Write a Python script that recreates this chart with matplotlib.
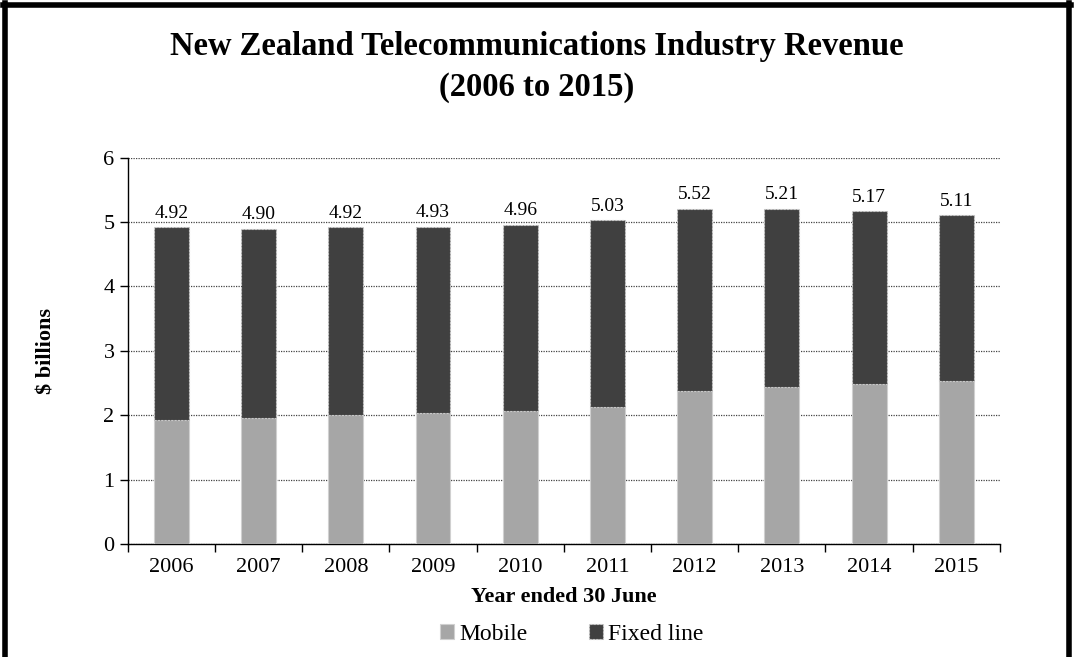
import matplotlib.pyplot as plt
import numpy as np

years = ['2006', '2007', '2008', '2009', '2010', '2011', '2012', '2013', '2014', '2015']
mobile = [1.93, 1.96, 2.00, 2.04, 2.06, 2.13, 2.37, 2.44, 2.48, 2.53]
fixed_line = [2.99, 2.94, 2.92, 2.89, 2.90, 2.90, 2.84, 2.77, 2.69, 2.58]
total_labels = ['4.92', '4.90', '4.92', '4.93', '4.96', '5.03', '5.52', '5.21', '5.17', '5.11']

plt.rcParams['font.family'] = ['Liberation Serif', 'DejaVu Serif']

fig = plt.figure(figsize=(10.74, 6.57), dpi=100)
ax = fig.add_axes([0.119, 0.172, 0.812, 0.588])

x = np.arange(len(years))
ax.bar(x, mobile, width=0.4, color='#a6a6a6', edgecolor='#d0d0d0', linewidth=0.8,
       label='Mobile', zorder=3)
ax.bar(x, fixed_line, width=0.4, bottom=mobile, color='#404040', edgecolor='#c8c8c8',
       linewidth=0.8, linestyle=(0, (2, 1)), label='Fixed line', zorder=3)

tops = np.array(mobile) + np.array(fixed_line)
for xi, t, lab in zip(x, tops, total_labels):
    ax.text(xi, t + 0.08, lab, ha='center', va='bottom', fontsize=14)

ax.set_xlim(-0.5, len(years) - 0.5)
ax.set_ylim(0, 6)
ax.set_yticks(range(0, 7))
ax.set_xticks(x)
ax.set_xticklabels(years, fontsize=16)
ax.set_xticks(np.arange(-0.5, len(years)), minor=True)
ax.tick_params(axis='x', which='major', length=0, pad=10)
ax.tick_params(axis='x', which='minor', length=6, direction='out', width=1)
ax.tick_params(axis='y', labelsize=16, length=6, direction='out', width=1)
ax.grid(axis='y', color='#444444', linestyle=(0, (1, 1)), linewidth=0.9, zorder=0)

for s in ['top', 'right']:
    ax.spines[s].set_visible(False)
ax.spines['left'].set_linewidth(1.0)
ax.spines['bottom'].set_linewidth(1.0)

ax.set_xlabel('Year ended 30 June', fontsize=16, fontweight='bold', labelpad=7)
ax.set_ylabel('$ billions', fontsize=16, fontweight='bold', labelpad=34)

fig.text(0.5, 0.898, 'New Zealand Telecommunications Industry Revenue\n(2006 to 2015)',
         ha='center', va='center', fontsize=23.5, fontweight='bold', linespacing=1.4)

ax.legend(loc='upper center', bbox_to_anchor=(0.509, -0.152), ncol=2, frameon=False,
          fontsize=17, handlelength=0.6, handleheight=0.6, columnspacing=2.6,
          handletextpad=0.2)

# outer frame (left, top, right)
fig.add_artist(plt.Line2D([0.005, 0.005], [0, 0.995], transform=fig.transFigure,
                          color='black', linewidth=4))
fig.add_artist(plt.Line2D([0.003, 0.997], [0.992, 0.992], transform=fig.transFigure,
                          color='black', linewidth=4))
fig.add_artist(plt.Line2D([0.995, 0.995], [0, 0.995], transform=fig.transFigure,
                          color='black', linewidth=4))

fig.savefig('out.png', dpi=100)
